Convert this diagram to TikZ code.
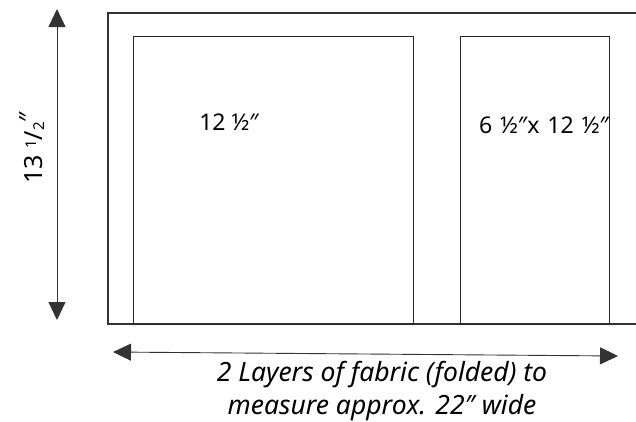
\documentclass[tikz,border=0pt]{standalone}
\usepackage{fontspec}
\setmainfont{Noto Sans}
\usetikzlibrary{arrows.meta}
\tikzset{
  box/.style={draw=black!85, line width=1.1pt, inner sep=0pt, anchor=north west},
  dimarrow/.style={line width=0.9pt, draw=black!80, {Triangle[length=18pt,width=17pt]}-{Triangle[length=18pt,width=17pt]}},
  lbl/.style={font=\fontsize{23}{25}\selectfont, inner sep=0pt},
  note/.style={font=\itshape\fontsize{26.5}{33}\selectfont, align=center, inner sep=0pt}
}
\begin{document}
\begin{tikzpicture}[x=1pt,y=-1pt]
\useasboundingbox (0,0) rectangle (636,421);
% outer fabric outline (open on the right)
\draw[black!80, line width=1.2pt] (636,13) -- (108,13) -- (108,324) -- (636,324);
% pieces
\node[box, minimum width=280pt, minimum height=288pt] (sq) at (133,36) {};
\node[box, minimum width=149pt, minimum height=288pt] (rc) at (460,36) {};
\node[lbl] (sqlbl) at (229,122) {12 ½″};
\node[lbl] (rclbl) at (544,125) {6\hspace{2pt} ½″x\hspace{2pt} 12\hspace{2pt} ½″};
% vertical dimension
\coordinate (vt) at (57,9);
\coordinate (vb) at (57,320);
\draw[dimarrow] (vt) -- (vb);
\node[lbl, rotate=90, font=\fontsize{25}{27}\selectfont\addfontfeatures{FakeBold=0}] (vlbl) at (32,148) {13 \raisebox{6pt}{\fontsize{15}{16}\selectfont 1}/\raisebox{-2pt}{\fontsize{15}{16}\selectfont 2}\raisebox{5pt}{″}};
% horizontal dimension
\coordinate (hl) at (113,352);
\coordinate (hr) at (618,356);
\draw[dimarrow] (hl) -- (hr);
\node[note] (nt) at (382,391) {2 Layers of fabric (folded) to\\measure approx. 22″ wide};
\end{tikzpicture}
\end{document}
